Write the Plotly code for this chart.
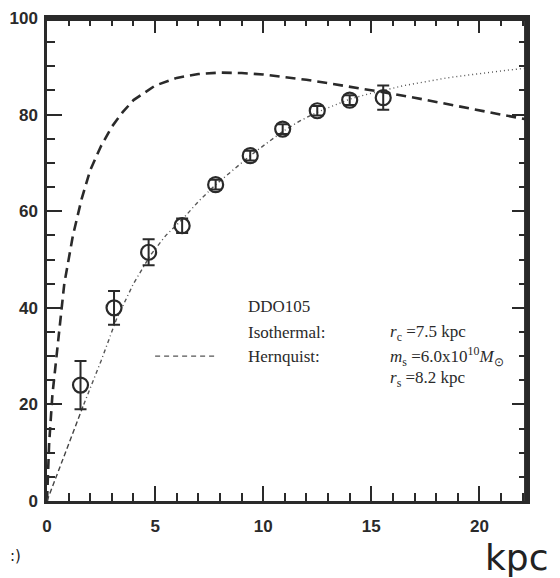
import plotly.graph_objects as go

# Observed rotation curve of DDO105 (kpc, km/s)
obs_r = [1.55, 3.1, 4.7, 6.25, 7.8, 9.4, 10.9, 12.5, 14.0, 15.55]
obs_v = [24.0, 40.0, 51.5, 57.0, 65.5, 71.5, 77.0, 80.8, 83.0, 83.5]
obs_err = [5.0, 3.5, 2.7, 1.5, 1.0, 1.0, 1.0, 1.0, 1.0, 2.5]

# Hernquist model curve (thick dashed)
hern_r = [0, 0.1, 0.25, 0.5, 0.8, 1.2, 1.6, 2.0, 2.5, 3.0, 3.5, 4.0, 5.0, 6.0, 7.0,
          8.0, 9.0, 10.0, 11.0, 12.0, 13.0, 14.0, 15.0, 16.0, 17.0, 18.0, 19.0,
          20.0, 21.0, 22.2]
hern_v = [0, 12, 22, 33, 45, 55, 62.5, 68.5, 73.5, 77.5, 80.5, 83, 86, 87.6, 88.4,
          88.7, 88.6, 88.3, 87.8, 87.2, 86.5, 85.8, 85.1, 84.3, 83.5, 82.6, 81.7,
          80.9, 80.0, 79.0]

# Isothermal model curve (thin dotted / dash-dot)
iso_r_a = [0, 0.8, 1.7]
iso_v_a = [0, 9.5, 20]
iso_r_b = [1.7, 2.5, 3.2, 4.0, 4.8, 5.5, 6.3, 7.0, 7.8, 8.6, 9.4, 10.2, 10.9, 11.7, 12.5]
iso_v_b = [20, 29, 37.5, 45, 51, 55, 58.5, 62, 65.5, 68.5, 71.5, 74.2, 76.5, 78.7, 80.5]
iso_r_c = [12.5, 13.3, 14.0, 14.8, 15.5, 16.5, 17.5, 18.5, 19.5, 20.5, 21.5, 22.2]
iso_v_c = [80.5, 82.0, 83.2, 84.2, 85.0, 86.0, 86.8, 87.6, 88.2, 88.8, 89.3, 89.6]

x_ticks = [0, 5, 10, 15, 20]
y_ticks = [0, 20, 40, 60, 80, 100]

ink = "#2a2a2a"
serif = "Liberation Serif"

fig = go.Figure()

fig.add_trace(go.Scatter(x=hern_r, y=hern_v, mode="lines",
                         line=dict(color=ink, width=2.6, dash="10px,6px"),
                         showlegend=False, hoverinfo="skip"))
fig.add_trace(go.Scatter(x=iso_r_a, y=iso_v_a, mode="lines",
                         line=dict(color="#444", width=1.4, dash="5px,3px"),
                         showlegend=False))
fig.add_trace(go.Scatter(x=iso_r_b, y=iso_v_b, mode="lines",
                         line=dict(color="#555", width=1.4, dash="4px,3px,1px,3px"),
                         showlegend=False))
fig.add_trace(go.Scatter(x=iso_r_c, y=iso_v_c, mode="lines",
                         line=dict(color="#555", width=1.4, dash="1px,3px"),
                         showlegend=False))
fig.add_trace(go.Scatter(x=obs_r, y=obs_v, mode="markers",
                         marker=dict(symbol="circle-open", size=15, color=ink,
                                     line=dict(width=2.2, color=ink)),
                         error_y=dict(type="data", array=obs_err, visible=True,
                                      color=ink, thickness=2, width=6),
                         showlegend=False))

# Top and right frame edges drawn explicitly
fig.add_shape(type="line", x0=0, x1=1, y0=0.997, y1=0.997, xref="paper", yref="paper",
              line=dict(color=ink, width=3), layer="above")
fig.add_shape(type="line", x0=0.997, x1=0.997, y0=0, y1=1, xref="paper", yref="paper",
              line=dict(color=ink, width=3), layer="above")

# Legend line sample next to "Hernquist:"
fig.add_shape(type="line", x0=5.0, x1=7.9, y0=30.0, y1=30.0, xref="x", yref="y",
              line=dict(color="#555", width=1.3, dash="5px,4px"))

tf = dict(family=serif, size=17, color=ink)
texts = [
    (9.2, 40.2, "DDO105"),
    (9.2, 34.8, "Isothermal:"),
    (9.2, 30.0, "Hernquist:"),
    (15.75, 34.8, "<i>r</i><sub>c</sub> =7.5 kpc"),
    (15.75, 30.0, "<i>m</i><sub>s</sub> =6.0x10<sup>10</sup><i>M</i><sub>⊙</sub>"),
    (15.75, 25.3, "<i>r</i><sub>s</sub> =8.2 kpc"),
]
for x, y, t in texts:
    fig.add_annotation(x=x, y=y, text=t, showarrow=False, xanchor="left",
                       yanchor="middle", font=tf)

fig.add_annotation(x=1.05, y=-0.07, xref="paper", yref="paper", text="kpc",
                   showarrow=False, xanchor="right", yanchor="top",
                   font=dict(family="DejaVu Sans", size=36, color="#222"))
fig.add_annotation(x=-0.081, y=-0.114, xref="paper", yref="paper", text=":)",
                   showarrow=False, xanchor="left", yanchor="middle",
                   font=dict(family="DejaVu Sans", size=15, color="#222"))

axis_common = dict(showgrid=False, zeroline=False, showline=True, linecolor=ink,
                   linewidth=2.5, mirror="ticks", ticks="inside", ticklen=15,
                   tickwidth=2, tickcolor=ink, automargin=False,
                   ticklabeloverflow="allow",
                   tickfont=dict(family="Liberation Sans", size=17, color=ink,
                                 weight="bold"))

fig.update_xaxes(range=[0, 22.2], tickvals=x_ticks, ticklabelstandoff=8,
                 minor=dict(dtick=1, ticks="inside", ticklen=8, tickwidth=2,
                            tickcolor=ink, showgrid=False),
                 **axis_common)
fig.update_yaxes(range=[0, 100], tickvals=y_ticks, ticklabelstandoff=3,
                 minor=dict(dtick=5, ticks="inside", ticklen=8, tickwidth=2,
                            tickcolor=ink, showgrid=False),
                 **axis_common)

# page body has an 8px margin; margins set so the plot area sits where the reference has it
fig.update_layout(width=560, height=578,
                  margin=dict(l=39, r=41, t=10, b=85),
                  paper_bgcolor="white", plot_bgcolor="white")

fig.write_html("out.html")
